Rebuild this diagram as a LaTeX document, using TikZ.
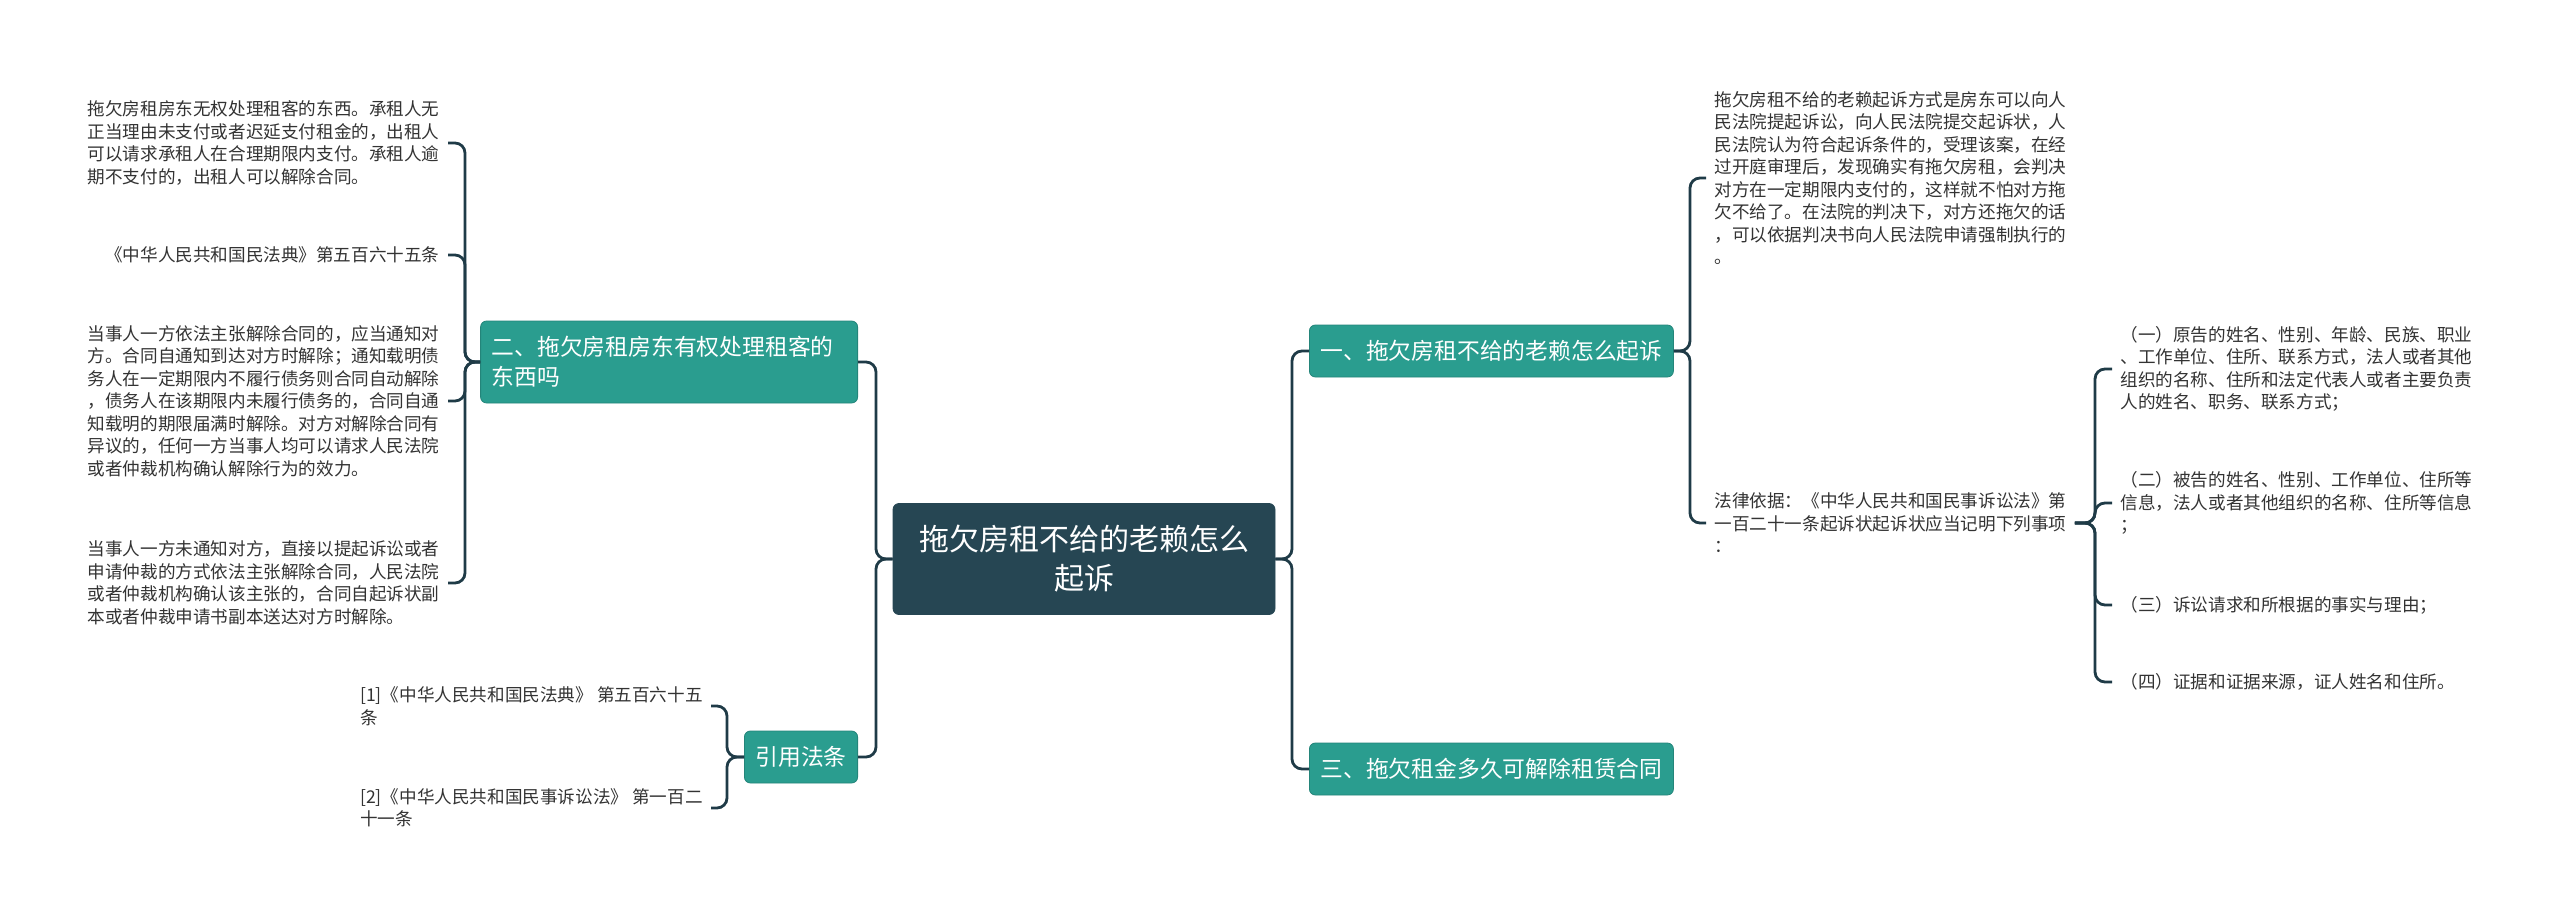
\documentclass[tikz,border=0pt]{standalone}
\usepackage{fontspec}
\setmainfont{Noto Sans CJK SC}
\definecolor{rootc}{HTML}{264653}
\definecolor{tealc}{HTML}{2A9D8F}
\definecolor{linec}{HTML}{1F3B47}
\definecolor{textc}{HTML}{333333}
\begin{document}
\begin{tikzpicture}[x=0.5pt,y=-0.5pt,
 conn/.style={draw=linec, line width=1.4pt, rounded corners=5pt},
 rootbox/.style={fill=rootc, draw=rootc, rounded corners=3pt, text=white, font=\fontsize{15pt}{19.5pt}\selectfont, align=center, text width=166pt, inner xsep=12.5pt, minimum height=55.5pt},
 topic/.style={fill=tealc, draw=tealc!85!black, line width=0.4pt, rounded corners=3pt, text=white, font=\fontsize{11.4pt}{15pt}\selectfont, inner xsep=5.5pt, minimum height=26pt},
 leaf/.style={text=textc, font=\fontsize{8.8pt}{11.25pt}\selectfont, align=left, inner xsep=4pt, inner ysep=2pt}
]
\fill[white] (0,0) rectangle (2560,915);
\useasboundingbox (0,0) rectangle (2560,915);

\node[rootbox] (root) at (1084,559) {拖欠房租不给的老赖怎么\\起诉};

\node[topic, anchor=west] (t1) at (1309,351) {一、拖欠房租不给的老赖怎么起诉};
\node[topic, anchor=west] (t3) at (1309,769) {三、拖欠租金多久可解除租赁合同};
\node[topic, anchor=east, align=left, text width=177.5pt, minimum height=41pt] (t2) at (858,362) {二、拖欠房租房东有权处理租客的\\东西吗};
\node[topic, anchor=east] (t4) at (858,757) {引用法条};

\node[leaf, anchor=east] (l1) at (448,143) {拖欠房租房东无权处理租客的东西。承租人无\\正当理由未支付或者迟延支付租金的，出租人\\可以请求承租人在合理期限内支付。承租人逾\\期不支付的，出租人可以解除合同。};
\node[leaf, anchor=east] (l2) at (448,255) {《中华人民共和国民法典》第五百六十五条};
\node[leaf, anchor=east] (l3) at (448,401) {当事人一方依法主张解除合同的，应当通知对\\方。合同自通知到达对方时解除；通知载明债\\务人在一定期限内不履行债务则合同自动解除\\，债务人在该期限内未履行债务的，合同自通\\知载明的期限届满时解除。对方对解除合同有\\异议的，任何一方当事人均可以请求人民法院\\或者仲裁机构确认解除行为的效力。};
\node[leaf, anchor=east] (l4) at (448,583) {当事人一方未通知对方，直接以提起诉讼或者\\申请仲裁的方式依法主张解除合同，人民法院\\或者仲裁机构确认该主张的，合同自起诉状副\\本或者仲裁申请书副本送达对方时解除。};

\node[leaf, anchor=east] (c1) at (711,706) {[1]《中华人民共和国民法典》 第五百六十五\\条};
\node[leaf, anchor=east] (c2) at (711,808) {[2]《中华人民共和国民事诉讼法》 第一百二\\十一条};

\node[leaf, anchor=west] (r1) at (1706,178) {拖欠房租不给的老赖起诉方式是房东可以向人\\民法院提起诉讼，向人民法院提交起诉状，人\\民法院认为符合起诉条件的，受理该案，在经\\过开庭审理后，发现确实有拖欠房租，会判决\\对方在一定期限内支付的，这样就不怕对方拖\\欠不给了。在法院的判决下，对方还拖欠的话\\，可以依据判决书向人民法院申请强制执行的\\。};
\node[leaf, anchor=west] (r2) at (1706,523) {法律依据：《中华人民共和国民事诉讼法》第\\一百二十一条起诉状起诉状应当记明下列事项\\：};

\node[leaf, anchor=west] (i1) at (2112,369) {（一）原告的姓名、性别、年龄、民族、职业\\、工作单位、住所、联系方式，法人或者其他\\组织的名称、住所和法定代表人或者主要负责\\人的姓名、职务、联系方式；};
\node[leaf, anchor=west] (i2) at (2112,503) {（二）被告的姓名、性别、工作单位、住所等\\信息，法人或者其他组织的名称、住所等信息\\；};
\node[leaf, anchor=west] (i3) at (2112,605) {（三）诉讼请求和所根据的事实与理由；};
\node[leaf, anchor=west] (i4) at (2112,682) {（四）证据和证据来源，证人姓名和住所。};

\coordinate (jL) at (876,559);
\coordinate (jR) at (1292,559);
\coordinate (j2) at (465,362);
\coordinate (j4) at (727,757);
\coordinate (j1) at (1690,351);
\coordinate (jB) at (2095,523);

\draw[conn] (root.west) -- (jL) |- (t2.east);
\draw[conn] (root.west) -- (jL) |- (t4.east);
\draw[conn] (root.east) -- (jR) |- (t1.west);
\draw[conn] (root.east) -- (jR) |- (t3.west);

\draw[conn] (t2.west) -- (j2) |- (l1.east);
\draw[conn] (t2.west) -- (j2) |- (l2.east);
\draw[conn] (t2.west) -- (j2) |- (l3.east);
\draw[conn] (t2.west) -- (j2) |- (l4.east);

\draw[conn] (t4.west) -- (j4) |- (c1.east);
\draw[conn] (t4.west) -- (j4) |- (c2.east);

\draw[conn] (t1.east) -- (j1) |- (r1.west);
\draw[conn] (t1.east) -- (j1) |- (r2.west);

\draw[conn] (r2.east) -- (jB) |- (i1.west);
\draw[conn] (r2.east) -- (jB) |- (i2.west);
\draw[conn] (r2.east) -- (jB) |- (i3.west);
\draw[conn] (r2.east) -- (jB) |- (i4.west);
\end{tikzpicture}
\end{document}
